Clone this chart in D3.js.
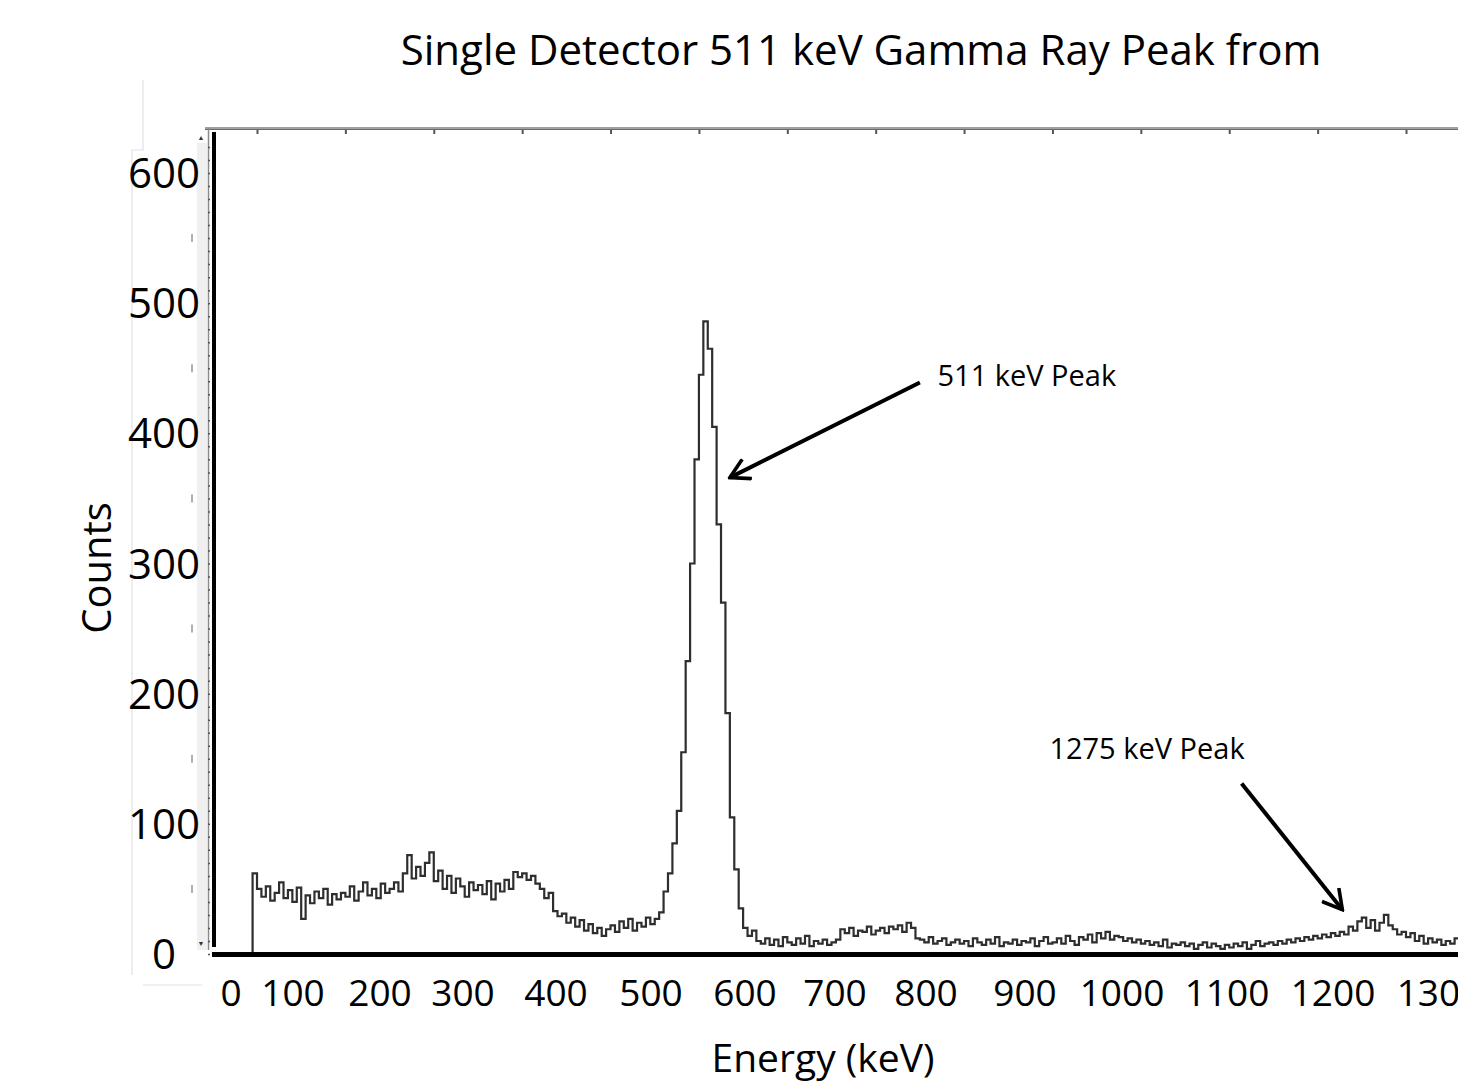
<!DOCTYPE html>
<html lang="en">
<head>
<meta charset="utf-8">
<title>Single Detector 511 keV Gamma Ray Peak</title>
<script src="https://cdn.jsdelivr.net/npm/d3@7"></script>
<style>
  body { margin: 0; background: #fff; }
  svg text { font-family: "Open Sans", sans-serif; fill: #000; }
</style>
</head>
<body>
<div id="chart"></div>
<script>
// spectrum: counts per 5 keV bin, first bin starts at -10 keV
var binStart = -10,
    binWidth = 5;
var counts = [
    0, 62,
    50, 44, 52, 41, 47, 55, 43, 49, 40, 51,      // 0 - 45
    27, 45, 39, 48, 43, 50, 38, 46, 42, 47,      // 50
    44, 52, 41, 48, 55, 45, 50, 43, 54, 47,      // 100
    50, 55, 48, 62, 76, 58, 67, 60, 70, 78,      // 150
    56, 64, 50, 60, 47, 58, 52, 44, 55, 49,      // 200
    53, 46, 56, 42, 54, 48, 57, 50, 63, 59,      // 250
    62, 57, 60, 54, 50, 43, 47, 33, 29, 31,      // 300
    24, 28, 21, 26, 18, 23, 16, 20, 14, 19,      // 350
    22, 17, 25, 20, 27, 18, 24, 21, 28, 23,      // 400
    27, 32, 48, 62, 85, 110, 155, 225, 300, 380, // 450
    445, 486, 465, 405, 330, 270, 185, 105, 65, 35, // 500
    20, 14, 18, 10, 8, 12, 7, 11, 6, 13,         // 550
    9, 7, 12, 8, 14, 6, 10, 8, 11, 7,            // 600
    9, 11, 19, 16, 20, 14, 18, 17, 21, 15,       // 650
    18, 20, 16, 21, 19, 22, 17, 24, 20, 12,      // 700
    11, 9, 13, 8, 10, 12, 7, 9, 11, 8,           // 750
    10, 6, 12, 9, 7, 11, 8, 13, 6, 9,            // 800
    8, 11, 7, 10, 9, 12, 6, 10, 13, 8,           // 850
    9, 12, 8, 14, 10, 7, 13, 11, 15, 9,          // 900
    16, 12, 17, 11, 14, 13, 10, 12, 9, 11,       // 950
    8, 10, 7, 9, 6, 11, 5, 8, 7, 9,              // 1000
    6, 8, 4, 7, 9, 5, 8, 6, 4, 7,                // 1050
    5, 8, 6, 9, 4, 7, 10, 6, 8, 9,               // 1100
    7, 10, 8, 11, 9, 12, 10, 13, 11, 14,         // 1150
    12, 15, 13, 16, 14, 17, 15, 21, 18, 25,      // 1200
    28, 20, 26, 18, 24, 30, 22, 19, 15, 17,      // 1250
    13, 16, 10, 14, 8, 12, 9, 11, 7, 10, 8, 12   // 1300 - 1355
];
var energyTicks = [0, 100, 200, 300, 400, 500, 600, 700, 800, 900, 1000, 1100, 1200, 1300];
var countTicks = [0, 100, 200, 300, 400, 500, 600];
var peakNotes = [
    {text: "511 keV Peak",  labelE: 871,  labelC: 436, fromE: 750,  fromC: 439, toE: 535,  toC: 366},
    {text: "1275 keV Peak", labelE: 1007, labelC: 150, fromE: 1114, fromC: 131, toE: 1228, toC: 34}
];

var W = 1458, H = 1085;
// the energy labels were typed over the screenshot, so they do not sit evenly
var energyLabelX = [231, 293, 380, 463, 556, 651, 745, 835, 926, 1025, 1122, 1227, 1333, 1439];

var svg = d3.select("#chart").append("svg")
    .attr("width", W)
    .attr("height", H);

svg.append("defs").append("marker")
    .attr("id", "head")
    .attr("viewBox", "0 0 10 10")
    .attr("refX", 9).attr("refY", 5)
    .attr("markerWidth", 6).attr("markerHeight", 6)
    .attr("markerUnits", "strokeWidth")
    .attr("orient", "auto")
    .append("path")
    .attr("d", "M1,0.5 L9,5 L1,9.5")
    .attr("fill", "none")
    .attr("stroke", "#000")
    .attr("stroke-width", 1.5);

var x = d3.scaleLinear().domain([0, 1300]).range([257, 1406]),
    y = d3.scaleLinear().domain([0, 600]).range([954, 173]),
    xLab = d3.scaleLinear().domain(energyTicks).range(energyLabelX);

// faint box lines left over from the pasted axis labels
svg.append("path")
    .attr("d", "M143,80 V150 H132 V975")
    .attr("fill", "none").attr("stroke", "#e2e2e2").attr("stroke-width", 1.2);
svg.append("line")
    .attr("x1", 143).attr("x2", 202).attr("y1", 985).attr("y2", 985)
    .attr("stroke", "#e2e2e2").attr("stroke-width", 1.2);

// scroll strip on the left of the plot
svg.append("rect")
    .attr("x", 197).attr("y", 143).attr("width", 10).attr("height", 807)
    .attr("fill", "#f0f0f0");
svg.append("text").attr("x", 201).attr("y", 140)
    .attr("text-anchor", "middle").style("font-size", "7px").style("fill", "#333").text("▲");
svg.append("text").attr("x", 201).attr("y", 946)
    .attr("text-anchor", "middle").style("font-size", "7px").style("fill", "#333").text("▼");

// gray dashes from the original count labels
svg.append("g").selectAll("line")
    .data([50, 150, 250, 350, 450, 550])
    .enter().append("line")
    .attr("x1", 192).attr("x2", 192)
    .attr("y1", function (d) { return y(d) - 4; })
    .attr("y2", function (d) { return y(d) + 4; })
    .attr("stroke", "#b0b0b0").attr("stroke-width", 2);

// top frame with its energy ticks
svg.append("line")
    .attr("x1", 205).attr("x2", W).attr("y1", 128.5).attr("y2", 128.5)
    .attr("stroke", "#a0a0a0").attr("stroke-width", 3);
svg.append("line")
    .attr("x1", 205).attr("x2", W).attr("y1", 129.5).attr("y2", 129.5)
    .attr("stroke", "#6a6a6a").attr("stroke-width", 1.2);
var topAxis = svg.append("g")
    .attr("transform", "translate(0,130)")
    .call(d3.axisBottom(x).tickValues(energyTicks).tickSize(4).tickFormat(""));
topAxis.select(".domain").remove();
topAxis.selectAll("line").attr("stroke", "#555").attr("stroke-width", 2);

// left frame: thin gray line with minor count ticks, then the thick black one
svg.append("line")
    .attr("x1", 208.5).attr("x2", 208.5).attr("y1", 128).attr("y2", 950)
    .attr("stroke", "#8a8a8a").attr("stroke-width", 1.5);
var minorAxis = svg.append("g")
    .attr("transform", "translate(208,0)")
    .call(d3.axisRight(y).tickValues(d3.range(0, 621, 10)).tickSize(2).tickFormat(""));
minorAxis.select(".domain").remove();
minorAxis.selectAll("line").attr("stroke", "#555").attr("stroke-width", 1.5);
svg.append("line")
    .attr("x1", 214).attr("x2", 214).attr("y1", 132).attr("y2", 947)
    .attr("stroke", "#000").attr("stroke-width", 4);

// spectrum
var pts = counts.map(function (c, i) { return [binStart + i * binWidth, c]; });
pts.push([binStart + counts.length * binWidth, counts[counts.length - 1]]);
var line = d3.line()
    .x(function (d) { return x(d[0]); })
    .y(function (d) { return y(d[1]); })
    .curve(d3.curveStepAfter);
svg.append("path")
    .datum(pts)
    .attr("d", line)
    .attr("fill", "none")
    .attr("stroke", "#2e2e2e")
    .attr("stroke-width", 2.2);

// bottom frame
svg.append("line")
    .attr("x1", 212).attr("x2", W).attr("y1", y(0) + 0.5).attr("y2", y(0) + 0.5)
    .attr("stroke", "#000").attr("stroke-width", 5);

// count labels
svg.append("g").selectAll("text")
    .data(countTicks)
    .enter().append("text")
    .attr("x", 164)
    .attr("y", function (d) { return y(d); })
    .attr("dy", "0.36em")
    .attr("text-anchor", "middle")
    .style("font-size", "42px")
    .text(function (d) { return d; });

// energy labels
svg.append("g").selectAll("text")
    .data(energyTicks)
    .enter().append("text")
    .attr("x", function (d) { return xLab(d); })
    .attr("y", 1006)
    .attr("text-anchor", "middle")
    .style("font-size", "37px")
    .text(function (d) { return d; });

// titles
svg.append("text")
    .attr("x", 861).attr("y", 65)
    .attr("text-anchor", "middle")
    .style("font-size", "42px")
    .text("Single Detector 511 keV Gamma Ray Peak from");
svg.append("text")
    .attr("transform", "translate(111,568) rotate(-90)")
    .attr("text-anchor", "middle")
    .style("font-size", "40px")
    .text("Counts");
svg.append("text")
    .attr("x", 823).attr("y", 1072)
    .attr("text-anchor", "middle")
    .style("font-size", "39px")
    .text("Energy (keV)");

// peak annotations
var notes = svg.append("g").selectAll("g").data(peakNotes).enter().append("g");
notes.append("line")
    .attr("x1", function (d) { return x(d.fromE); })
    .attr("y1", function (d) { return y(d.fromC); })
    .attr("x2", function (d) { return x(d.toE); })
    .attr("y2", function (d) { return y(d.toC); })
    .attr("stroke", "#000")
    .attr("stroke-width", 4)
    .attr("marker-end", "url(#head)");
notes.append("text")
    .attr("x", function (d) { return x(d.labelE); })
    .attr("y", function (d) { return y(d.labelC); })
    .attr("text-anchor", "middle")
    .style("font-size", "29px")
    .text(function (d) { return d.text; });
</script>
</body>
</html>
